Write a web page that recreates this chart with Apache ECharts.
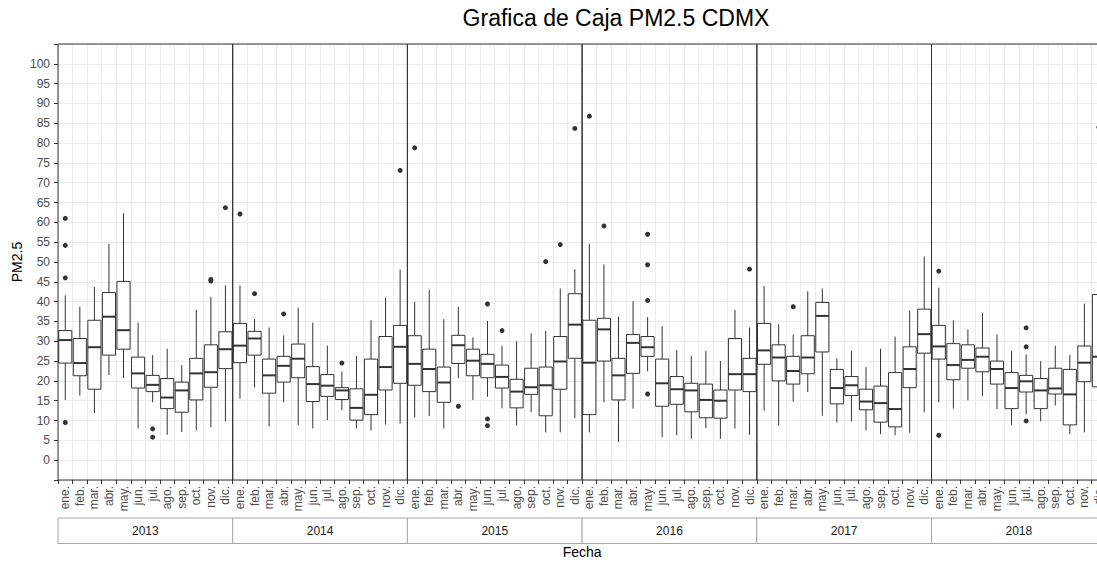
<!DOCTYPE html>
<html>
<head>
<meta charset="utf-8">
<script src="https://cdn.jsdelivr.net/npm/echarts@6/dist/echarts.min.js"></script>
<style>
  html, body { margin: 0; padding: 0; background: #fff; }
  #chart { width: 1097px; height: 562px; }
</style>
</head>
<body>
<div id="chart"></div>
<script>
const years = ['2013', '2014', '2015', '2016', '2017', '2018']
const months = ['ene.', 'feb.', 'mar.', 'abr.', 'may.', 'jun.', 'jul.', 'ago.', 'sep.', 'oct.', 'nov.', 'dic.']
const yLabels = [0, 5, 10, 15, 20, 25, 30, 35, 40, 45, 50, 55, 60, 65, 70, 75, 80, 85, 90, 95, 100]

// [min, Q1, median, Q3, max] per month
const box2013 = [
  [15.2, 24.5, 30.3, 32.7, 41.6], [16.3, 21.3, 24.5, 30.7, 38.7], [11.9, 17.9, 28.5, 35.3, 43.7],
  [21.5, 26.5, 36.2, 42.3, 54.6], [20.7, 28.0, 32.8, 45.1, 62.3], [8.0, 18.2, 21.9, 26.0, 34.7],
  [14.6, 17.3, 19.0, 21.4, 26.5], [6.4, 13.0, 15.8, 20.6, 28.1], [7.1, 12.1, 17.6, 19.7, 24.0],
  [7.5, 15.2, 21.9, 25.7, 37.9], [8.3, 18.4, 22.2, 29.1, 41.2], [9.8, 23.1, 28.0, 32.4, 44.1],
]
const box2014 = [
  [15.5, 24.6, 28.9, 34.5, 44.1], [18.4, 26.5, 30.7, 32.5, 35.6], [8.5, 16.9, 21.4, 25.5, 33.5],
  [14.6, 19.7, 23.8, 26.2, 31.5], [8.8, 20.8, 25.6, 29.3, 38.5], [8.0, 14.8, 19.2, 23.6, 34.7],
  [10.1, 16.1, 18.8, 21.6, 28.9], [12.6, 15.3, 17.6, 18.3, 22.4], [8.0, 10.1, 13.2, 18.0, 26.3],
  [7.5, 11.5, 16.5, 25.5, 35.3], [9.0, 17.7, 23.5, 31.2, 41.0], [9.2, 19.4, 28.6, 34.0, 48.1],
]
const box2015 = [
  [10.8, 18.9, 24.3, 31.4, 39.9], [11.1, 17.3, 23.0, 28.0, 43.0], [8.0, 14.6, 19.6, 23.5, 35.6],
  [20.7, 24.4, 29.0, 31.5, 38.7], [15.2, 21.3, 25.1, 28.0, 31.0], [16.0, 20.8, 24.3, 26.7, 35.1],
  [13.1, 18.2, 21.0, 24.0, 28.9], [8.8, 13.2, 17.3, 20.4, 30.0], [12.1, 16.6, 18.4, 23.2, 32.0],
  [7.0, 11.2, 18.9, 23.5, 32.6], [7.0, 17.9, 24.9, 31.2, 43.3], [10.6, 25.7, 34.2, 42.0, 48.2],
]
const box2016 = [
  [7.0, 11.5, 24.6, 35.3, 54.6], [14.6, 25.0, 33.0, 35.8, 49.4], [4.6, 15.2, 21.4, 25.7, 36.2],
  [13.0, 21.9, 29.6, 31.7, 40.1], [22.4, 26.2, 28.5, 31.2, 36.1], [5.8, 13.6, 19.4, 25.5, 33.8],
  [6.3, 14.1, 17.9, 21.1, 27.8], [5.4, 12.2, 17.6, 19.4, 26.3], [8.1, 10.7, 15.2, 19.2, 27.6],
  [5.4, 10.6, 15.0, 17.7, 25.0], [8.0, 17.7, 21.7, 30.7, 37.9], [6.4, 17.3, 21.7, 25.7, 33.5],
]
const box2017 = [
  [12.5, 24.2, 27.7, 34.5, 43.9], [8.7, 20.0, 25.9, 29.1, 34.3], [14.8, 19.2, 22.5, 26.2, 31.7],
  [17.2, 21.8, 25.9, 31.4, 42.6], [11.2, 27.3, 36.4, 39.8, 43.3], [9.5, 14.2, 18.2, 22.9, 25.7],
  [9.8, 16.3, 18.9, 21.1, 27.6], [7.5, 12.7, 14.8, 17.9, 23.5], [6.6, 9.6, 14.4, 18.7, 28.1],
  [6.3, 8.4, 12.9, 22.1, 31.2], [6.9, 18.3, 23.0, 28.6, 37.7], [12.1, 27.0, 31.8, 38.1, 51.4],
]
const box2018 = [
  [14.6, 25.5, 28.7, 34.0, 43.5], [13.0, 20.3, 24.0, 29.4, 35.3], [15.1, 23.2, 25.3, 29.1, 33.0],
  [16.2, 22.3, 26.1, 28.3, 37.2], [12.9, 19.2, 23.0, 25.0, 31.7], [8.8, 13.0, 18.2, 22.1, 27.6],
  [11.6, 17.2, 19.9, 21.4, 26.7], [9.8, 13.0, 17.6, 20.6, 25.0], [13.8, 16.7, 18.1, 23.2, 28.9],
  [6.6, 8.9, 16.6, 22.9, 26.5], [7.0, 19.8, 24.6, 28.8, 39.5], [8.0, 18.5, 26.1, 41.8, 55.0],
]

// outliers: [month index, value]
const out2013 = [[0, 61.0], [0, 54.2], [0, 46.0], [0, 9.5], [6, 7.9], [6, 5.8], [10, 45.6], [10, 45.2], [11, 63.7]]
const out2014 = [[0, 62.1], [1, 42.0], [3, 36.9], [7, 24.5], [11, 73.1]]
const out2015 = [[0, 78.8], [3, 13.6], [5, 39.4], [5, 10.4], [5, 8.7], [6, 32.7], [9, 50.1], [10, 54.4], [11, 83.7]]
const out2016 = [[0, 86.8], [1, 59.1], [4, 57.0], [4, 49.3], [4, 40.3], [4, 16.7], [11, 48.2]]
const out2017 = [[2, 38.7]]
const out2018 = [[0, 47.7], [0, 6.3], [6, 33.4], [6, 28.6], [6, 9.9], [11, 84.0]]

const boxes = [box2013, box2014, box2015, box2016, box2017, box2018]
const outliers = [out2013, out2014, out2015, out2016, out2017, out2018]

// layout
const FONT = '"Liberation Sans", Arial, sans-serif'
const PANEL_LEFT = 58
const PANEL_W = 174.7
const PANEL_TOP = 44
const PANEL_H = 436
const STRIP_TOP = 518
const STRIP_H = 25.5

function renderBox(params, api) {
  const m = api.value(0)
  const pMin = api.coord([m, api.value(1)])
  const pQ1 = api.coord([m, api.value(2)])
  const pMed = api.coord([m, api.value(3)])
  const pQ3 = api.coord([m, api.value(4)])
  const pMax = api.coord([m, api.value(5)])
  const w = api.size([1, 0])[0] * 0.9
  const x = pMed[0]
  const stroke = '#333333'
  return {
    type: 'group',
    children: [
      { type: 'line', shape: { x1: x, y1: pQ3[1], x2: x, y2: pMax[1] }, style: { stroke, lineWidth: 1 } },
      { type: 'line', shape: { x1: x, y1: pQ1[1], x2: x, y2: pMin[1] }, style: { stroke, lineWidth: 1 } },
      {
        type: 'rect',
        shape: { x: x - w / 2, y: pQ3[1], width: w, height: pQ1[1] - pQ3[1] },
        style: { fill: '#ffffff', stroke, lineWidth: 1 },
      },
      { type: 'line', shape: { x1: x - w / 2, y1: pMed[1], x2: x + w / 2, y2: pMed[1] }, style: { stroke, lineWidth: 2 } },
    ],
  }
}

const grids = years.map((yr, i) => ({
  left: PANEL_LEFT + i * PANEL_W,
  top: PANEL_TOP,
  width: PANEL_W,
  height: PANEL_H,
  show: false,
  containLabel: false,
  outerBoundsMode: 'none',
}))

const xAxes = years.map((yr, i) => ({
  gridIndex: i,
  type: 'category',
  data: months,
  boundaryGap: true,
  position: 'bottom',
  axisLine: { show: false, onZero: false },
  axisTick: { show: true, interval: 0, length: 4, lineStyle: { color: '#333333' } },
  axisLabel: { interval: 0, rotate: 90, margin: 6, color: '#4d4d4d', fontSize: 12, fontFamily: FONT },
  splitLine: { show: true, interval: 0, lineStyle: { color: '#ebebeb', width: 1 } },
}))

const yAxes = years.map((yr, i) => ({
  gridIndex: i,
  type: 'value',
  min: -5,
  max: 105,
  interval: 5,
  name: i === 0 ? 'PM2.5' : '',
  nameLocation: 'middle',
  nameGap: 34,
  nameTextStyle: { color: '#000000', fontSize: 14, fontFamily: FONT },
  axisLine: { show: false, onZero: false },
  axisTick: { show: i === 0, length: 4, lineStyle: { color: '#333333' } },
  axisLabel: {
    show: i === 0,
    color: '#4d4d4d',
    fontSize: 12,
    fontFamily: FONT,
    formatter: (v) => (yLabels.includes(v) ? String(v) : ''),
  },
  splitLine: { show: true, lineStyle: { color: '#ebebeb', width: 1 } },
}))

const series = []
years.forEach((yr, i) => {
  series.push({
    name: 'caja ' + yr,
    type: 'custom',
    xAxisIndex: i,
    yAxisIndex: i,
    renderItem: renderBox,
    encode: { x: 0, y: [1, 2, 3, 4, 5] },
    data: boxes[i].map((b, m) => [m, ...b]),
    z: 2,
  })
  series.push({
    name: 'atipicos ' + yr,
    type: 'scatter',
    xAxisIndex: i,
    yAxisIndex: i,
    symbolSize: 5,
    itemStyle: { color: '#333333', opacity: 1 },
    data: outliers[i],
    z: 3,
  })
})

// panel borders drawn on top, like ggplot's panel.border
const borders = years.map((yr, i) => ({
  type: 'rect',
  z: 100,
  silent: true,
  shape: { x: PANEL_LEFT + i * PANEL_W, y: PANEL_TOP, width: PANEL_W, height: PANEL_H },
  style: { fill: 'none', stroke: '#333333', lineWidth: 1 },
}))

const strips = years.flatMap((yr, i) => [
  {
    type: 'rect',
    shape: { x: PANEL_LEFT + i * PANEL_W, y: STRIP_TOP, width: PANEL_W, height: STRIP_H },
    style: { fill: '#ffffff', stroke: '#a6a6a6', lineWidth: 1 },
  },
  {
    type: 'text',
    x: PANEL_LEFT + i * PANEL_W + PANEL_W / 2,
    y: STRIP_TOP + STRIP_H / 2,
    style: { text: yr, fontSize: 12, fontFamily: FONT, fill: '#1a1a1a', align: 'center', verticalAlign: 'middle' },
  },
])

const chart = echarts.init(document.getElementById('chart'), null, { renderer: 'svg' })
chart.setOption({
  animation: false,
  backgroundColor: '#ffffff',
  title: [
    {
      text: 'Grafica de Caja PM2.5 CDMX',
      left: 616,
      top: 6,
      padding: 0,
      textAlign: 'center',
      textStyle: { color: '#000000', fontSize: 23, fontWeight: 'normal', fontFamily: FONT },
    },
    {
      text: 'Fecha',
      left: PANEL_LEFT + 3 * PANEL_W,
      top: 545,
      padding: 0,
      textAlign: 'center',
      textStyle: { color: '#000000', fontSize: 14, fontWeight: 'normal', fontFamily: FONT },
    },
  ],
  tooltip: { show: false },
  grid: grids,
  xAxis: xAxes,
  yAxis: yAxes,
  series,
  graphic: [...borders, ...strips],
})
</script>
</body>
</html>
